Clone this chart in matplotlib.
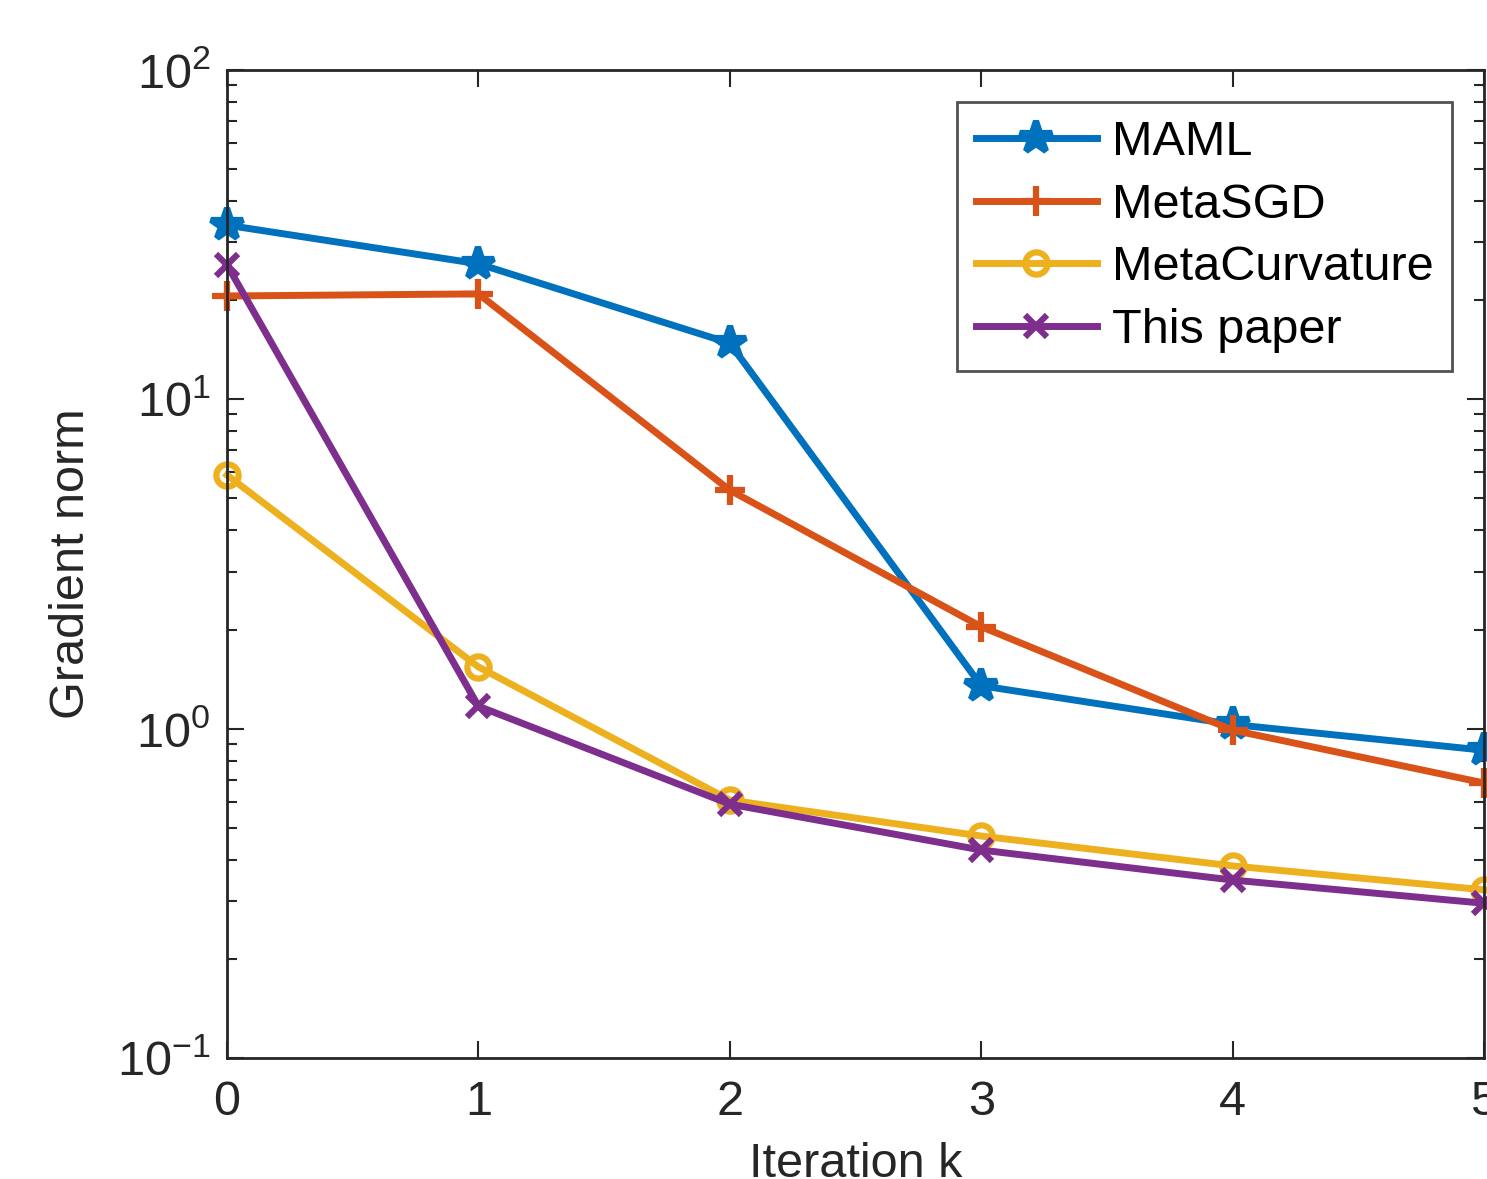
import matplotlib
matplotlib.use("Agg")
import matplotlib.pyplot as plt
import matplotlib.ticker as mticker

# --- Data -------------------------------------------------------
iterations = [0, 1, 2, 3, 4, 5]
maml = [33.8, 25.8, 14.8, 1.35, 1.03, 0.86]
metasgd = [20.6, 20.9, 5.3, 2.04, 0.99, 0.684]
metacurvature = [5.89, 1.54, 0.607, 0.472, 0.383, 0.324]
this_paper = [25.6, 1.17, 0.59, 0.428, 0.347, 0.295]

labels = ["MAML", "MetaSGD", "MetaCurvature", "This paper"]

# --- Style ------------------------------------------------------
plt.rcParams["font.family"] = ["Liberation Sans", "DejaVu Sans"]
plt.rcParams["mathtext.fontset"] = "custom"
plt.rcParams["mathtext.rm"] = "Liberation Sans"
plt.rcParams["mathtext.it"] = "Liberation Sans:italic"
plt.rcParams["mathtext.default"] = "regular"

fig = plt.figure(figsize=(14.87, 11.79), dpi=100)
ax = fig.add_axes([227 / 1487, 1 - 1058 / 1179, 1257 / 1487, 988 / 1179])

styles = [
    ("#0072BD", "*", 24),
    ("#D95319", "+", 22),
    ("#EDB120", "o", 16),
    ("#7E2F8E", "x", 16),
]
series = [maml, metasgd, metacurvature, this_paper]

for vals, lab, (col, mk, ms) in zip(series, labels, styles):
    ax.plot(iterations, vals, color=col, marker=mk, markersize=ms,
            markeredgewidth=4.5, markerfacecolor="none" if mk == "o" else col,
            linewidth=5, label=lab, clip_on=False)

ax.set_yscale("log")
ax.set_xlim(0, 5)
ax.set_ylim(0.1, 100)
ax.set_xticks(iterations)
ax.yaxis.set_major_locator(mticker.LogLocator(base=10, numticks=10))
ax.yaxis.set_minor_locator(mticker.LogLocator(base=10, subs=range(2, 10), numticks=50))
ax.yaxis.set_minor_formatter(mticker.NullFormatter())

ax.tick_params(which="both", direction="in", top=True, right=True,
               colors="#262626", labelsize=35, width=1.5)
ax.tick_params(which="major", length=12)
ax.tick_params(axis="x", which="major", pad=16)
ax.tick_params(axis="y", which="major", pad=12)
ax.tick_params(which="minor", length=7)
for sp in ax.spines.values():
    sp.set_color("#262626")
    sp.set_linewidth(2)

ax.set_xlabel("Iteration k", fontsize=35, color="#262626", labelpad=12)
ax.set_ylabel("Gradient norm", fontsize=35, color="#262626", labelpad=16)

leg = ax.legend(loc="upper right", bbox_to_anchor=(0.9745, 0.9676), fontsize=35,
                frameon=True, fancybox=False, handlelength=2.5,
                handletextpad=0.3, borderpad=0.38, borderaxespad=0,
                labelspacing=0.36)
leg.get_frame().set_edgecolor("#262626")
leg.get_frame().set_linewidth(2)

fig.savefig("out.png", dpi=100)
